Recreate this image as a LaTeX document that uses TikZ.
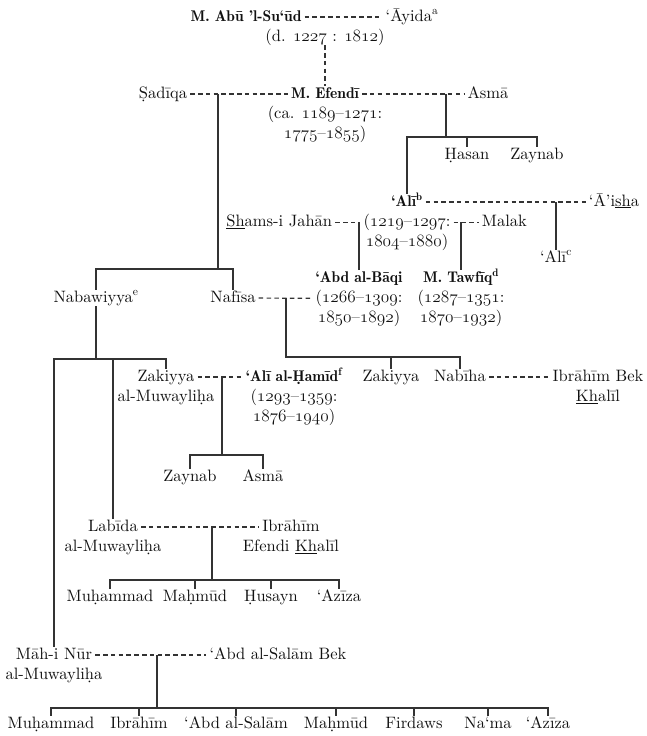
\documentclass[tikz,border=0pt]{standalone}
\usepackage{fontspec}
\setmainfont{lmroman10-regular.otf}[BoldFont=lmromandemi10-regular.otf,
  ItalicFont=lmroman10-italic.otf]
\usetikzlibrary{positioning}
\definecolor{inkc}{HTML}{111111}
\definecolor{linec}{HTML}{333333}
\newcommand{\regsize}{\fontsize{16.5}{21}\selectfont}
\newcommand{\boldsize}{\fontsize{15.5}{21}\selectfont\bfseries}
\newcommand{\yr}[1]{{\usefont{OML}{cmm}{m}{it}#1}}

\begin{document}
\begin{tikzpicture}[x=1pt, y=-1pt,
    person/.style = {font=\regsize, text=inkc, inner xsep=3pt, inner ysep=0pt,
                     text height=12pt, text depth=4pt},
    head/.style   = {person, font=\boldsize},
    kin/.style    = {draw=linec, line width=1.2pt},
    wed/.style    = {kin, dash pattern=on 4.5pt off 3.3pt},
]
\useasboundingbox (0,0) rectangle (646,736);

% --- generation 1 ------------------------------------------------------
\node[head]   (abusuud)  at (246,17) {M. Abū ’l-Su‘ūd};
\node[person] (ayida)    at (412,17) {‘Āyida\textsuperscript{a}};
\node[person] (abudates) at (325,37) {(d. \yr{1227} : \yr{1812})};

% --- generation 2 ------------------------------------------------------
\node[person] (sadiqa) at (163,94) {Ṣadīqa};
\node[head]   (efendi) at (325,94) {M. Efendī};
\node[person, below=4pt of efendi]   (efendid1) {(ca. \yr{1189}–\yr{1271}:};
\node[person, below=4pt of efendid1] (efendid2) {\yr{1775}–\yr{1855})};
\node[person] (asma)   at (488,94) {Asmā};

% --- children of Asmā --------------------------------------------------
\node[person] (hasan)  at (467,155) {Ḥasan};
\node[person] (zaynab) at (537,155) {Zaynab};
\node[head]   (ali)    at (407,202) {‘Alī\textsuperscript{b}};
\node[person, below=4pt of ali]   (alid1) {(\yr{1219}–\yr{1297}:};
\node[person, below=4pt of alid1] (alid2) {\yr{1804}–\yr{1880})};
\node[person, left=25pt of alid1]  (shams) {\underline{Sh}ams-i Jahān};
\node[person, right=25pt of alid1] (malak) {Malak};
\node[person] (aisha)  at (614,202) {‘Ā’i\underline{sh}a};
\node[person] (alic)   at (556,258) {‘Alī\textsuperscript{c}};

% --- children of ʿAlī --------------------------------------------------
\node[head]   (baqi)   at (359,278) {‘Abd al-Bāqi};
\node[person, below=4pt of baqi]   (baqid1) {(\yr{1266}–\yr{1309}:};
\node[person, below=4pt of baqid1] (baqid2) {\yr{1850}–\yr{1892})};
\node[head]   (tawfiq) at (461,278) {M. Tawfīq\textsuperscript{d}};
\node[person, below=4pt of tawfiq]   (tawfiqd1) {(\yr{1287}–\yr{1351}:};
\node[person, below=4pt of tawfiqd1] (tawfiqd2) {\yr{1870}–\yr{1932})};

% --- children of Ṣadīqa ------------------------------------------------
\node[person] (nabawiyya) at (96,298)  {Nabawiyya\textsuperscript{e}};
\node[person] (nafisa)    at (233,298) {Nafīsa};

% --- next generation ---------------------------------------------------
\node[person] (zakm) at (166,377) {Zakiyya};
\node[person, below=4pt of zakm] (zakm2) {al-Muwayliḥa};
\node[head]   (hamid) at (294,377) {‘Alī al-Ḥamīd\textsuperscript{f}};
\node[person, below=4pt of hamid]   (hamidd1) {(\yr{1293}–\yr{1359}:};
\node[person, below=4pt of hamidd1] (hamidd2) {\yr{1876}–\yr{1940})};
\node[person] (zakiyya)    at (391,377) {Zakiyya};
\node[person] (nabiha)     at (460,377) {Nabīha};
\node[person] (ibrahimbek) at (598,377) {Ibrāhīm Bek};
\node[person, below=4pt of ibrahimbek] (khalil) {\underline{Kh}alīl};

\node[person] (zaynabz) at (190,477) {Zaynab};
\node[person] (asmaz)   at (263,477) {Asmā};

\node[person] (labida) at (113,527) {Labīda};
\node[person, below=4pt of labida] (labida2) {al-Muwayliḥa};
\node[person] (ibrahime) at (291,527) {Ibrāhīm};
\node[person, below=4pt of ibrahime] (ibrahime2) {Efendi \underline{Kh}alīl};

\node[person] (muhammad) at (110,597) {Muḥammad};
\node[person] (mahmud)   at (195,597) {Maḥmūd};
\node[person] (husayn)   at (271,597) {Ḥusayn};
\node[person] (aziza)    at (339,597) {‘Azīza};

\node[person] (mahinur) at (54,655) {Māh-i Nūr};
\node[person, below=4pt of mahinur] (mahinur2) {al-Muwayliḥa};
\node[person] (abdsalam) at (278,655) {‘Abd al-Salām Bek};

\node[person] (muhammadm) at (51,724)  {Muḥammad};
\node[person] (ibrahimm)  at (139,724) {Ibrāhīm};
\node[person] (abdsalamm) at (236,724) {‘Abd al-Salām};
\node[person] (mahmudm)   at (336,724) {Maḥmūd};
\node[person] (firdaws)   at (414,724) {Firdaws};
\node[person] (nama)      at (488,724) {Na‘ma};
\node[person] (azizam)    at (548,724) {‘Azīza};

% --- marriages (dashed) ------------------------------------------------
\draw[wed] (abusuud) -- (ayida);
\draw[wed] (abudates) -- (efendi);
\draw[wed] (sadiqa) -- (efendi);
\draw[wed] (efendi) -- (asma);
\draw[wed] (ali) -- (aisha);
\draw[wed] (shams) -- (alid1);
\draw[wed] (alid1) -- (malak);
\draw[wed] (nafisa) -- (baqid1);
\draw[wed] (zakm) -- (hamid);
\draw[wed] (nabiha) -- (ibrahimbek);
\draw[wed] (labida) -- (ibrahime);
\draw[wed] (mahinur) -- (abdsalam);

% --- junctions on the marriage lines and sibling bars ------------------
\coordinate (sadiqaj)  at (218,94);
\coordinate (asmaj)    at (446,94);
\coordinate (aishaj)   at (alic.north |- ali);
\coordinate (shamsj)   at (baqi.north |- shams);
\coordinate (malakj)   at (tawfiq.north |- malak);
\coordinate (nafisaj)  at (286,298);
\coordinate (zakmj)    at (222,377);
\coordinate (labidaj)  at (212,527);
\coordinate (mahinurj) at (157,655);

\coordinate (barA) at (0,137);
\coordinate (barB) at (0,269);
\coordinate (barC) at (0,359);
\coordinate (barD) at (0,357);
\coordinate (barE) at (0,455);
\coordinate (barF) at (0,580);
\coordinate (barG) at (0,708);

% --- descent (solid) ---------------------------------------------------
% Asmā
\draw[kin] (asmaj) -- (asmaj |- barA);
\draw[kin] (ali.north) |- (zaynab.north |- barA) -- (zaynab.north);
\draw[kin] (hasan.north |- barA) -- (hasan.north);
% ʿAlī
\draw[kin] (aishaj) -- (alic.north);
\draw[kin] (shamsj) -- (baqi.north);
\draw[kin] (malakj) -- (tawfiq.north);
% Ṣadīqa
\draw[kin] (sadiqaj) -- (sadiqaj |- barB);
\draw[kin] (nabawiyya.north) |- (nafisa.north |- barB) -- (nafisa.north);
% Nabawiyya
\draw[kin] (nabawiyya.south) -- (nabawiyya.south |- barC);
\draw[kin] (mahinur.north) |- (zakm.north |- barC) -- (zakm.north);
\draw[kin] (labida.north |- barC) -- (labida.north);
% Nafīsa
\draw[kin] (nafisaj) |- (nabiha.north |- barD) -- (nabiha.north);
\draw[kin] (zakiyya.north |- barD) -- (zakiyya.north);
% Zakiyya al-Muwayliḥa
\draw[kin] (zakmj) -- (zakmj |- barE);
\draw[kin] (zaynabz.north) |- (asmaz.north |- barE) -- (asmaz.north);
% Labīda
\draw[kin] (labidaj) -- (labidaj |- barF);
\draw[kin] (muhammad.north) |- (aziza.north |- barF) -- (aziza.north);
\draw[kin] (mahmud.north |- barF) -- (mahmud.north);
\draw[kin] (husayn.north |- barF) -- (husayn.north);
% Māh-i Nūr
\draw[kin] (mahinurj) -- (mahinurj |- barG);
\draw[kin] (muhammadm.north) |- (azizam.north |- barG) -- (azizam.north);
\draw[kin] (ibrahimm.north |- barG) -- (ibrahimm.north);
\draw[kin] (abdsalamm.north |- barG) -- (abdsalamm.north);
\draw[kin] (mahmudm.north |- barG) -- (mahmudm.north);
\draw[kin] (firdaws.north |- barG) -- (firdaws.north);
\draw[kin] (nama.north |- barG) -- (nama.north);

\end{tikzpicture}
\end{document}
